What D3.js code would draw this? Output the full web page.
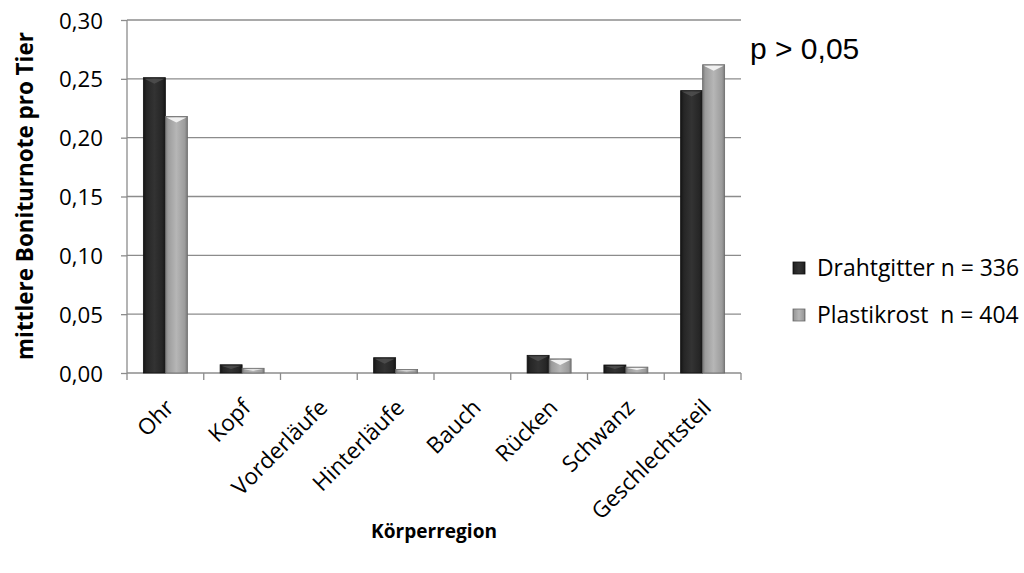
<!DOCTYPE html>
<html><head><meta charset="utf-8">
<script src="https://cdn.jsdelivr.net/npm/d3@7"></script>
<style>body{margin:0;background:#fff}svg{display:block}</style>
</head><body><svg id="c" width="1024" height="573"></svg>
<script>
const categories = ["Ohr","Kopf","Vorderläufe","Hinterläufe","Bauch","Rücken","Schwanz","Geschlechtsteil"];
const drahtgitter = [0.251,0.007,0,0.013,0,0.015,0.0068,0.240];
const plastikrost = [0.218,0.004,0,0.003,0,0.012,0.005,0.262];
const seriesNames = ["Drahtgitter n = 336","Plastikrost\u00a0 n = 404"];
const yTicks = [0,0.05,0.10,0.15,0.20,0.25,0.30];

const svg = d3.select("#c");
const font = "'Open Sans', Lato, sans-serif";
const m = {l:127, r:741, t:20, b:373};
const x = d3.scaleBand().domain(categories).range([m.l,m.r]).paddingInner(0).paddingOuter(0);
const y = d3.scaleLinear().domain([0,0.30]).range([m.b,m.t]);

function fit(sel, target){
  const node = sel.node();
  const fs = parseFloat(sel.attr("font-size"));
  const w = node.getComputedTextLength();
  const nfs = fs*target/w;
  sel.attr("font-size", nfs.toFixed(2));
  return nfs;
}

const defs = svg.append("defs");
function grad(id, stops){
  const g = defs.append("linearGradient").attr("id",id).attr("x1","0").attr("x2","1").attr("y1","0").attr("y2","0");
  stops.forEach(s=>g.append("stop").attr("offset",s[0]).attr("stop-color",s[1]));
}
grad("gd",[[0,"#151515"],[0.15,"#262626"],[0.5,"#333"],[0.85,"#262626"],[1,"#151515"]]);
grad("gl",[[0,"#7a7a7a"],[0.12,"#9c9c9c"],[0.5,"#b6b6b6"],[0.88,"#9c9c9c"],[1,"#7a7a7a"]]);

svg.append("g").selectAll("line").data(yTicks.slice(1)).join("line")
  .attr("x1",m.l).attr("x2",m.r).attr("y1",d=>y(d)).attr("y2",d=>y(d))
  .attr("stroke","#8c8c8c").attr("stroke-width",1.3);

const ya = svg.append("g").attr("transform",`translate(${m.l},0)`)
  .call(d3.axisLeft(y).tickValues(yTicks).tickSize(6).tickPadding(24).tickFormat(d=>d3.format(".2f")(d).replace(".",",")));
ya.select(".domain").attr("stroke","#8c8c8c").attr("stroke-width",1.3).attr("d",`M0,${m.t}V${m.b}`);
ya.selectAll(".tick line").attr("stroke","#8c8c8c").attr("stroke-width",1.3);
const tt = ya.selectAll(".tick text").attr("font-family",font).attr("font-size",20).attr("fill","#000")
  .attr("text-anchor","start").attr("x",-68).attr("dy","0.36em");
const tfs = fit(d3.select(tt.nodes()[tt.size()-1]), 44);
tt.attr("font-size", tfs.toFixed(2));

const xa = svg.append("g").attr("transform",`translate(0,${m.b})`);
xa.append("line").attr("x1",m.l).attr("x2",m.r).attr("stroke","#8c8c8c").attr("stroke-width",1.3);
const bounds = categories.map(c=>x(c)).concat([m.r]);
xa.selectAll("line.t").data(bounds).join("line").attr("class","t")
  .attr("x1",d=>d).attr("x2",d=>d).attr("y1",0).attr("y2",7).attr("stroke","#8c8c8c").attr("stroke-width",1.3);
const xl = xa.selectAll("text").data(categories).join("text")
  .attr("transform",d=>`translate(${x(d)+x.bandwidth()/2+10},${36}) rotate(-45)`)
  .attr("text-anchor","end").attr("font-family",font).attr("font-size",20).attr("fill","#000").text(d=>d);
const xfs = fit(d3.select(xl.nodes()[2]), 124);
xl.attr("font-size", xfs.toFixed(2));

const bw = 22;
const groups = [{vals:drahtgitter,fill:"url(#gd)",stroke:"#111",off:-bw},{vals:plastikrost,fill:"url(#gl)",stroke:"#6a6a6a",off:0}];
groups.forEach((s,si)=>{
  const g = svg.append("g");
  const dat = categories.map((c,i)=>({c,v:s.vals[i]})).filter(d=>d.v>0);
  g.selectAll("rect").data(dat).join("rect")
    .attr("x",d=>x(d.c)+x.bandwidth()/2+s.off).attr("width",bw)
    .attr("y",d=>y(d.v)).attr("height",d=>y(0)-y(d.v))
    .attr("fill",s.fill).attr("stroke",s.stroke).attr("stroke-width",0.8);
  g.selectAll("path").data(dat).join("path")
    .attr("d",d=>{const x0=x(d.c)+x.bandwidth()/2+s.off, y0=y(d.v), h=Math.min(6,(y(0)-y(d.v))/2);
      return `M${x0+1},${y0+1}L${x0+bw-1},${y0+1}L${x0+bw/2},${y0+h}Z`;})
    .attr("fill",si===0?"#555":"#f4f4f4").attr("opacity",si===0?0.7:0.95);
});

const xt = svg.append("text").attr("x",434).attr("y",538).attr("text-anchor","middle")
  .attr("font-family",font).attr("font-weight","bold").attr("font-size",18).text("Körperregion");
fit(xt,126);
const ytl = svg.append("text").attr("transform","translate(33,196) rotate(-90)").attr("text-anchor","middle")
  .attr("font-family",font).attr("font-weight","bold").attr("font-size",18).text("mittlere Boniturnote pro Tier");
fit(ytl,328);

svg.append("text").attr("x",750).attr("y",59).attr("font-family","'Liberation Sans', Arial, sans-serif")
  .attr("font-size",30).text("p > 0,05");

const lg = svg.append("g");
const legFill = ["url(#gd)","url(#gl)"], legStroke=["#111","#6a6a6a"];
let lfs = null;
seriesNames.forEach((n,i)=>{
  lg.append("rect").attr("x",793).attr("y",262+i*47).attr("width",12).attr("height",12)
    .attr("fill",legFill[i]).attr("stroke",legStroke[i]).attr("stroke-width",0.8);
  const t = lg.append("text").attr("x",817).attr("y",276+i*47).attr("font-family",font).attr("font-size",20).text(n);
  if(i===0) lfs = fit(t,202); else t.attr("font-size",lfs.toFixed(2));
});
</script></body></html>
